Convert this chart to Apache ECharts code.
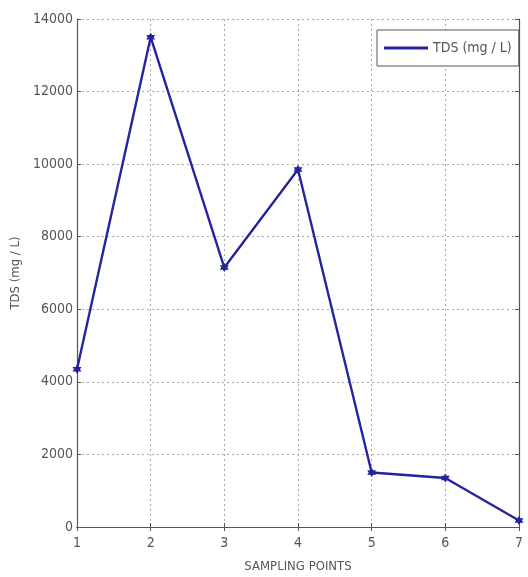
<!DOCTYPE html>
<html>
<head>
<meta charset="utf-8">
<script src="https://cdn.jsdelivr.net/npm/echarts@6/dist/echarts.min.js"></script>
<style>
  html, body { margin: 0; padding: 0; background: #fff; }
  #chart { width: 528px; height: 577px; }
</style>
</head>
<body>
<div id="chart"></div>
<script>
// Sampling point numbers and measured total dissolved solids
const samplingPoints = [1, 2, 3, 4, 5, 6, 7];
const tdsValues = [4350, 13500, 7150, 9850, 1500, 1350, 180];
const seriesName = 'TDS (mg / L)';
const xTitle = 'SAMPLING POINTS';
const yTitle = 'TDS (mg / L)';

const FONT = '"DejaVu Sans Condensed", "Liberation Sans", Arial, sans-serif';
const TEXT = '#555';
const AXIS = '#555';
const LINE = '#2424a0';

// six-pointed star marker
const hexagram = 'path://M0,-10 L2.9,-5 L8.66,-5 L5.8,0 L8.66,5 L2.9,5 L0,10 L-2.9,5 L-8.66,5 L-5.8,0 L-8.66,-5 L-2.9,-5 Z';

const chart = echarts.init(document.getElementById('chart'), null, { renderer: 'canvas' });

const frameAxis = {
  axisLine: { show: true, lineStyle: { color: AXIS, width: 1.2 } },
  axisTick: { show: true, inside: true, length: 4, lineStyle: { color: AXIS } },
  axisLabel: { show: false },
  splitLine: { show: false }
};

chart.setOption({
  animation: false,
  backgroundColor: '#fff',
  grid: { left: 77, right: 9, top: 19, bottom: 50, containLabel: false, outerBoundsMode: 'none' },
  legend: {
    data: [seriesName],
    left: 377, top: 30,
    padding: [11, 7, 11, 7],
    itemWidth: 44, itemHeight: 3,
    itemGap: 8,
    icon: 'rect',
    borderColor: '#555', borderWidth: 1,
    backgroundColor: '#fff',
    textStyle: { fontFamily: FONT, fontSize: 14, color: TEXT }
  },
  xAxis: [
    {
      type: 'value', min: 1, max: 7, interval: 1,
      name: xTitle, nameLocation: 'middle', nameGap: 33,
      nameTextStyle: { fontFamily: FONT, fontSize: 13, color: TEXT },
      axisLine: { show: true, lineStyle: { color: AXIS, width: 1.2 } },
      axisTick: { show: true, inside: true, length: 4, lineStyle: { color: AXIS } },
      axisLabel: { fontFamily: FONT, fontSize: 14, color: TEXT, margin: 9 },
      splitLine: { show: true, lineStyle: { color: '#a8a8a8', type: [2, 3], width: 1 } }
    },
    Object.assign({ type: 'value', min: 1, max: 7, interval: 1, position: 'top' }, frameAxis)
  ],
  yAxis: [
    {
      type: 'value', min: 0, max: 14000, interval: 2000,
      name: yTitle, nameLocation: 'middle', nameGap: 48,
      nameTextStyle: { fontFamily: FONT, fontSize: 13, color: TEXT },
      axisLine: { show: true, lineStyle: { color: AXIS, width: 1.2 } },
      axisTick: { show: true, inside: true, length: 4, lineStyle: { color: AXIS } },
      axisLabel: { fontFamily: FONT, fontSize: 14, color: TEXT, margin: 4, formatter: v => String(v) },
      splitLine: { show: true, lineStyle: { color: '#a8a8a8', type: [2, 3], width: 1 } }
    },
    Object.assign({ type: 'value', min: 0, max: 14000, interval: 2000, position: 'right' }, frameAxis)
  ],
  series: [{
    name: seriesName,
    type: 'line',
    data: samplingPoints.map((p, i) => [p, tdsValues[i]]),
    symbol: hexagram,
    symbolSize: 9,
    showAllSymbol: true,
    lineStyle: { color: LINE, width: 2.4 },
    itemStyle: { color: LINE, borderWidth: 0 }
  }]
});
</script>
</body>
</html>
